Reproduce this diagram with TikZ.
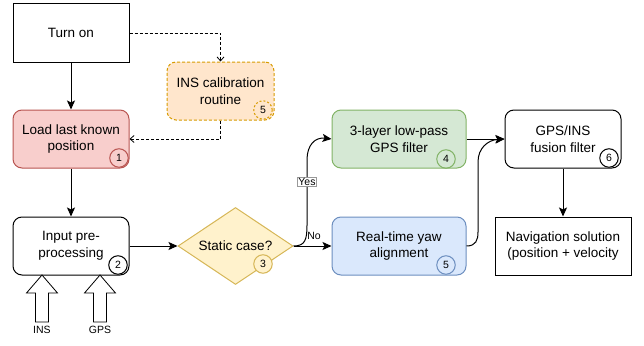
\documentclass[tikz,border=0pt]{standalone}
\usepackage{fontspec}
\setmainfont{Liberation Sans}
\usetikzlibrary{arrows.meta,shapes.geometric}
\definecolor{redF}{HTML}{F8CECC}\definecolor{redS}{HTML}{B85450}
\definecolor{orF}{HTML}{FFE6CC}\definecolor{orS}{HTML}{D79B00}
\definecolor{yeF}{HTML}{FFF2CC}\definecolor{yeS}{HTML}{D6B656}
\definecolor{grF}{HTML}{D5E8D4}\definecolor{grS}{HTML}{82B366}
\definecolor{blF}{HTML}{DAE8FC}\definecolor{blS}{HTML}{6C8EBF}
\tikzset{
  box/.style={draw=black,line width=1pt,minimum width=116pt,minimum height=58pt,align=center,font=\fontsize{13.5}{16.5}\selectfont,inner sep=2pt},
  rbox/.style={box,rounded corners=9pt},
  badge/.style={circle,draw,line width=1pt,minimum size=18.5pt,inner sep=0pt,font=\fontsize{10.5}{11}\selectfont,fill=none},
  conn/.style={line width=1pt,draw=black,-{Stealth[length=9pt,width=8pt,inset=2pt]}},
  dconn/.style={line width=0.8pt,dashed,dash pattern=on 3pt off 2pt,-{Straight Barb[length=4pt,width=7pt]}},
  lbl/.style={font=\fontsize{10.5}{12}\selectfont,inner sep=1pt},
  blk/.style={draw=black,line width=0.8pt,fill=white,line join=miter}
}
\newcommand{\blockarrow}[1]{%
  \draw[blk] (#1,275) -- (#1+15.5,293) -- (#1+6.5,293) -- (#1+6.5,322) -- (#1-6.5,322) -- (#1-6.5,293) -- (#1-15.5,293) -- cycle;}
\begin{document}
\begin{tikzpicture}[x=1pt,y=-1pt]
\useasboundingbox (0,0) rectangle (644,345);
\node[box] (turn) at (71,33) {Turn on};
\node[rbox,fill=redF,draw=redS] (load) at (71,139) {Load last known\\position};
\node[badge,draw=redS] (b1) at (119,158) {1};
\node[rbox,fill=orF,draw=orS,dashed,dash pattern=on 3pt off 2pt,minimum width=107pt] (cal) at (220.5,91) {INS calibration\\routine};
\node[badge,draw=orS,dashed,dash pattern=on 2pt off 2pt] (b5a) at (263,110) {5};
\node[rbox] (inp) at (71,246) {Input pre-\\processing};
\node[badge] (b2) at (118,265) {2};
\node[diamond,draw=yeS,fill=yeF,line width=1pt,minimum width=115pt,minimum height=77pt,inner sep=0pt,aspect=1.5,font=\fontsize{13.5}{16.5}\selectfont] (dec) at (235.5,246) {Static case?};
\node[badge,draw=yeS,fill=yeF] (b3) at (263,264) {3};
\node[rbox,fill=grF,draw=grS,minimum width=134pt] (lp) at (399,139) {3-layer low-pass\\GPS filter};
\node[badge,draw=grS] (b4) at (446,159) {4};
\node[rbox,fill=blF,draw=blS,minimum width=134pt] (yaw) at (399,246) {Real-time yaw\\alignment};
\node[badge,draw=blS] (b5) at (446,265) {5};
\node[rbox] (fus) at (563,139) {GPS/INS\\fusion filter};
\node[badge] (b6) at (609,158) {6};
\node[box,minimum width=136pt] (nav) at (563,246) {Navigation solution\\(position + velocity};
\blockarrow{42}
\blockarrow{100}
\node[lbl] (tins) at (42,330) {INS};
\node[lbl] (tgps) at (100,330) {GPS};
% connectors
\draw[conn] (turn) -- (load);
\draw[conn] (load) -- (inp);
\draw[conn] (inp) -- (dec);
\draw[conn] (fus) -- (nav);
\draw[dconn] (turn.east) -| (cal.north);
\draw[dconn] (cal.south) |- (load.east);
\coordinate (y1) at (307,225);
\coordinate (y2) at (307,160);
\draw[conn] (dec.east) .. controls (305,246) and (307,240) .. (y1) -- (y2) .. controls (307,145) and (315,137) .. (lp.west);
\draw[conn] (dec.east) -- (yaw.west);
\node[lbl,draw=black!40,fill=white,inner sep=1pt] (yes) at (307,182) {Yes};
\node[lbl] (no) at (314,236) {No};
\coordinate (r1) at (478,232);
\coordinate (r2) at (478,162);
\draw[conn] (yaw.east) .. controls (476,246) and (478,240) .. (r1) -- (r2) .. controls (478,148) and (488,140) .. (fus.west);
\draw[conn] (lp.east) -- (fus.west);
\end{tikzpicture}
\end{document}
